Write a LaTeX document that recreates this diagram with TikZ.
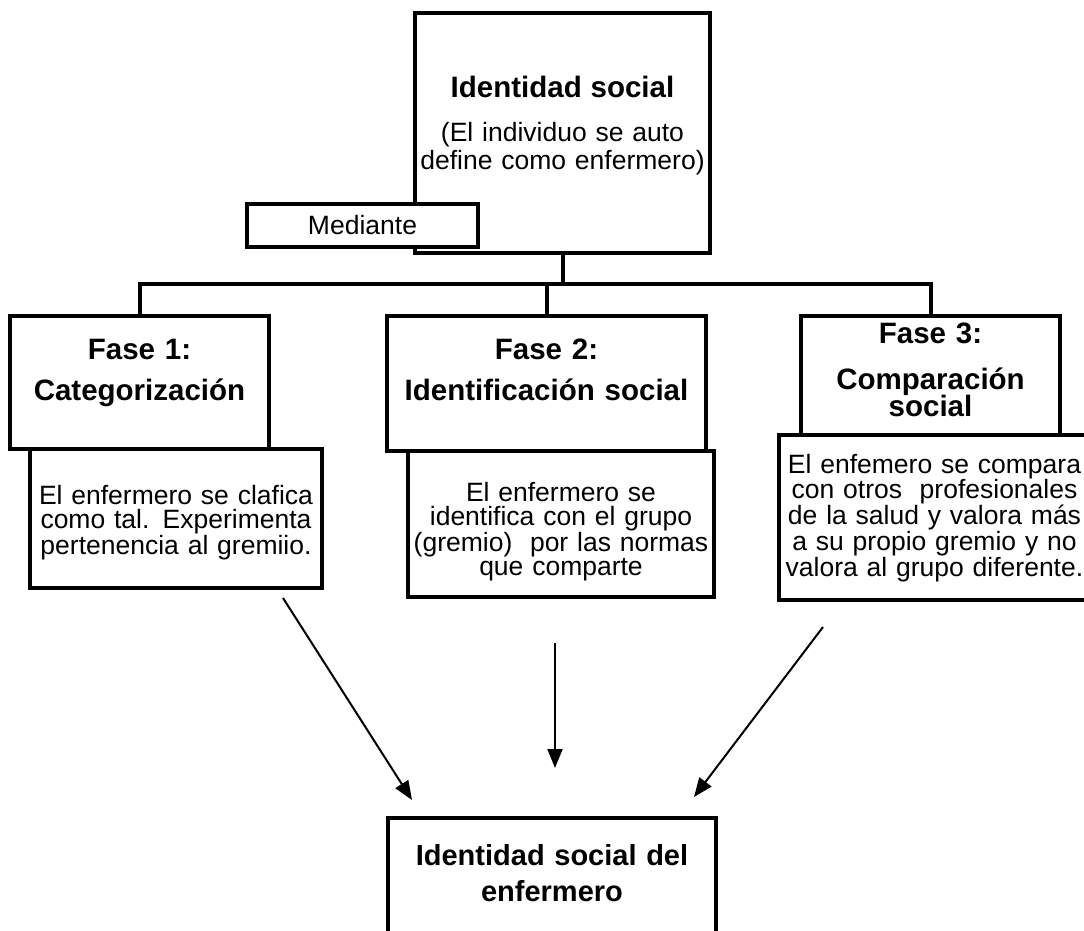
\documentclass[tikz,border=0pt]{standalone}
\usepackage{fontspec}
\setmainfont{Liberation Sans}
\usetikzlibrary{arrows.meta}

\newcommand{\regtxt}{\fontsize{26.5}{24.5}\selectfont}
\newcommand{\hdtxt}{\fontsize{29.5}{41}\selectfont\bfseries}

\begin{document}
\begin{tikzpicture}[x=1pt,y=-1pt,
  box/.style={draw, line width=4.5pt, fill=white, inner sep=0pt, outer sep=0pt, align=center, anchor=north west},
  conn/.style={line width=4pt},
  arr/.style={-{Triangle[length=19pt,width=15pt]}, line width=2pt}]
  \useasboundingbox (0,0) rectangle (1084,931);

  % top box and its tag
  \node[box, text width=295pt, text height=85pt, text depth=155pt, font=\regtxt] (idsoc) at (415,13)
    {{\hdtxt Identidad social}\\[19pt](El individuo se auto\\[2pt]define como enfermero)};
  \node[box, text width=231pt, text height=30pt, text depth=13pt, font=\regtxt] (med) at (247,204) {Mediante};

  % the three phases
  \node[box, text width=259pt, text height=43pt, text depth=90pt, font=\hdtxt] (fase1) at (10,316)
    {Fase 1:\\Categorización};
  \node[box, text width=319pt, text height=43pt, text depth=92pt, font=\hdtxt] (fase2) at (387,316)
    {Fase 2:\\Identificación social};
  \node[box, text width=259pt, text height=27pt, text depth=92pt, font=\hdtxt] (fase3) at (801,316)
    {Fase 3:\\[5pt]Comparación\\[-14pt]social};

  \node[box, text width=292pt, text height=55pt, text depth=84pt, font=\regtxt] (desc1) at ([xshift=20pt]fase1.south west)
    {El enfermero se clafica\\como tal. Experimenta\\pertenencia al gremiio.};
  \node[box, text width=306pt, text height=50pt, text depth=96pt, font=\regtxt] (desc2) at ([xshift=21pt]fase2.south west)
    {El enfermero se\\identifica con el grupo\\(gremio)~ por las normas\\que comparte};
  % runs past the right edge of the page
  \node[box, text width=340pt, text height=38pt, text depth=127pt, font=\regtxt] (desc3) at ([xshift=-22pt]fase3.south west)
    {\hspace*{-29pt}\parbox[t]{311pt}{\centering El enfemero se compara\\con otros~ profesionales\\de la salud y valora más\\a su propio gremio y no\\valora al grupo diferente.}};

  % result
  \node[box, text width=328pt, text height=47pt, text depth=135pt, font=\fontsize{29}{36}\selectfont\bfseries] (idenf) at (388,818)
    {Identidad social del\\enfermero};

  \coordinate (bus) at (563,284);
  \draw[conn] (idsoc.south) -- (idsoc.south |- bus);
  \draw[conn] (fase1.north) |- (bus) -| (fase3.north);
  \draw[conn] (fase2.north) -- (fase2.north |- bus);

  \coordinate (a1s) at (283,598);
  \coordinate (a1e) at (412,800);
  \coordinate (a2s) at (555,643);
  \coordinate (a2e) at (555,768);
  \coordinate (a3s) at (823,627);
  \coordinate (a3e) at (694,797);
  \draw[arr] (a1s) -- (a1e);
  \draw[arr] (a2s) -- (a2e);
  \draw[arr] (a3s) -- (a3e);
\end{tikzpicture}
\end{document}
